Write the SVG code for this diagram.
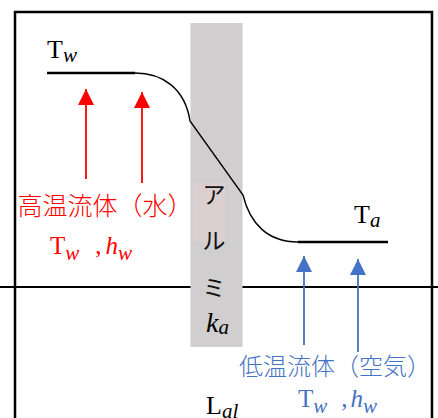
<svg xmlns="http://www.w3.org/2000/svg" width="438" height="418" viewBox="0 0 438 418">
<defs>
<style>
.frame{fill:none;stroke:#000;stroke-width:2.5}
.thick{stroke:#000;stroke-width:2.5;fill:none}
.thin{stroke:#000;stroke-width:1.4;fill:none}
.red{stroke:#ff0000;stroke-width:1.8;fill:none}
.blue{stroke:#4472c4;stroke-width:1.8;fill:none}
.serif{font-family:"Liberation Serif","DejaVu Serif",serif}
.it{font-style:italic}
.jp{font-family:"Noto Sans CJK JP","Noto Sans",sans-serif;font-weight:300}
.jpv{font-family:"Noto Sans CJK JP","Noto Sans",sans-serif;font-weight:400}
</style>
<marker id="ahr" markerWidth="16" markerHeight="16" viewBox="0 0 16 16" refX="16" refY="8" orient="auto" markerUnits="userSpaceOnUse">
<path d="M0,0 L16,8 L0,16 Z" fill="#ff0000"/>
</marker>
<marker id="ahb" markerWidth="16" markerHeight="16" viewBox="0 0 16 16" refX="16" refY="8" orient="auto" markerUnits="userSpaceOnUse">
<path d="M0,0 L16,8 L0,16 Z" fill="#4472c4"/>
</marker>
</defs>
<rect width="438" height="418" fill="#fff"/>
<g id="frame">
<path class="frame" d="M15,418 L15,12 L432,12 L432,418"/>
<line x1="0" y1="287" x2="438" y2="287" stroke="#000" stroke-width="2.2"/>
</g>
<g id="aluminum">
<rect x="190.5" y="23" width="52" height="324" fill="#d0cecf"/>
<rect x="193" y="183" width="32" height="58" fill="#dccfcf"/>
<text class="jpv" x="214" y="203" font-size="23" text-anchor="middle" fill="#111">ア</text>
<text class="jpv" x="214" y="249" font-size="23" text-anchor="middle" fill="#111">ル</text>
<text class="jpv" x="214" y="296" font-size="23" text-anchor="middle" fill="#111">ミ</text>
<text class="serif it" x="206" y="332" font-size="28" fill="#000">k<tspan font-size="21" dy="2">a</tspan></text>
</g>
<g id="connectors">
<line class="thick" x1="47" y1="73" x2="135" y2="73"/>
<path class="thin" d="M135,73 C162,73 185,88 190,121 L243,195 C250,224 268,242 298,242"/>
<line class="thick" x1="298" y1="242" x2="388" y2="242"/>
<line class="red" x1="86" y1="179" x2="86" y2="89" marker-end="url(#ahr)"/>
<line class="red" x1="142" y1="183" x2="142" y2="92" marker-end="url(#ahr)"/>
<line class="blue" x1="304" y1="345" x2="304" y2="256" marker-end="url(#ahb)"/>
<line class="blue" x1="358" y1="352" x2="358" y2="259" marker-end="url(#ahb)"/>
</g>
<g id="Tw-label">
<text class="serif" x="47" y="58" font-size="26" fill="#000">T<tspan class="it" font-size="21" dy="4">w</tspan></text>
</g>
<g id="Ta-label">
<text class="serif" x="354" y="223" font-size="26" fill="#000">T<tspan class="it" font-size="21" dy="4">a</tspan></text>
</g>
<g id="hot-fluid">
<text class="jp" x="105" y="215" font-size="25" text-anchor="middle" fill="#ff0000">高温流体（水）</text>
<text class="serif" x="50" y="254" font-size="25" fill="#ff0000">T<tspan class="it" font-size="21" dy="6">w</tspan><tspan dx="16" dy="-6">,</tspan><tspan class="it" dx="4">h</tspan><tspan class="it" font-size="21" dy="6">w</tspan></text>
</g>
<g id="cold-fluid">
<text class="jp" x="335" y="375" font-size="24" text-anchor="middle" fill="#4472c4">低温流体（空気）</text>
<text class="serif" x="298" y="407" font-size="25" fill="#4472c4">T<tspan class="it" font-size="21" dy="6">w</tspan><tspan dx="14" dy="-6">,</tspan><tspan class="it" dx="3">h</tspan><tspan class="it" font-size="21" dy="6">w</tspan></text>
</g>
<g id="Lal-label">
<text class="serif" x="206" y="414" font-size="26" fill="#000">L<tspan class="it" font-size="21" dy="4">al</tspan></text>
</g>
</svg>
